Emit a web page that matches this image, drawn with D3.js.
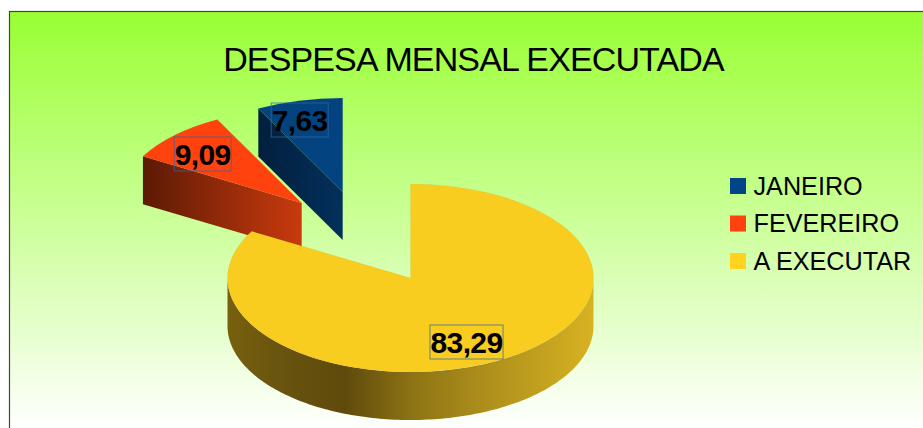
<!DOCTYPE html>
<html>
<head>
<meta charset="utf-8">
<script src="https://cdn.jsdelivr.net/npm/d3@7"></script>
<style>
  html, body { margin: 0; background: #fff; overflow: hidden; }
  text { font-family: "Liberation Sans", Arial, sans-serif; fill: #000; }
</style>
</head>
<body>
<svg id="chart"></svg>
<script>
const title = "DESPESA MENSAL EXECUTADA";
const categories = ["JANEIRO", "FEVEREIRO", "A EXECUTAR"];
const values = [7.63, 9.09, 83.29];
const topColors = ["#03437f", "#ff420e", "#f9cd1f"];
const legendColors = ["#004586", "#ff420e", "#ffd320"];

const width = 923;
const height = 428;
const frame = { left: 9.5, top: 11.5 };

// tilted pie: ellipse radii and wall height
const rx = 183;
const ry = 94;
const depth = 48;
const center = { x: 410.5, y: 278 };

// each slice has its own offset because the original is drawn in perspective
const sliceLayout = [
  { dx: -67.8, dy: -86, labelX: -43, labelY: -72,
    wall: [[0, "#021f3d"], [1, "#03305c"]] },
  { dx: -108.8, dy: -75, labelX: -99, labelY: -49,
    wall: [[0, "#5c1a04"], [1, "#c93a0e"]] },
  { dx: 0, dy: 0, labelX: 56, labelY: 64,
    wall: [[0, "#77600f"], [0.18, "#66510e"], [0.32, "#5f4a0c"], [0.5, "#8c7214"], [0.68, "#a98c1a"], [1, "#d8b222"]] }
];

const svg = d3.select("#chart")
  .attr("width", width)
  .attr("height", height)
  .style("display", "block");

const defs = svg.append("defs");

const bg = defs.append("linearGradient")
  .attr("id", "bg")
  .attr("x1", 0).attr("y1", 0).attr("x2", 0).attr("y2", 1);
bg.append("stop").attr("offset", 0).attr("stop-color", "#99ff33");
bg.append("stop").attr("offset", 1).attr("stop-color", "#ffffff");

svg.append("rect")
  .attr("x", frame.left)
  .attr("y", frame.top)
  .attr("width", width - frame.left + 2)
  .attr("height", height - frame.top + 2)
  .attr("fill", "url(#bg)")
  .attr("stroke", "#3f4a30")
  .attr("stroke-width", 1.2);

svg.append("text")
  .attr("x", 473.5)
  .attr("y", 71)
  .attr("text-anchor", "middle")
  .style("font-size", "34px")
  .style("letter-spacing", "-0.87px")
  .text(title);

// slices run counter-clockwise from 12 o'clock
const pie = d3.pie().sort(null).startAngle(2 * Math.PI).endAngle(0);
const slices = pie(values);

const arc = d3.arc().innerRadius(0).outerRadius(rx);
const wall = d3.area()
  .x(d => d.x)
  .y0(d => d.y + depth)
  .y1(d => d.y);

function onRim(a) {
  return { x: rx * Math.sin(a), y: -ry * Math.cos(a) };
}

const formatValue = v => d3.format(".2f")(v).replace(".", ",");

const groups = svg.selectAll(".slice")
  .data(slices)
  .enter()
  .append("g")
  .attr("class", "slice")
  .attr("transform", (d, i) =>
    `translate(${center.x + sliceLayout[i].dx}, ${center.y + sliceLayout[i].dy})`);

groups.each(function(d, i) {
  const g = d3.select(this);
  let wallPoints;

  if (i === 2) {
    // big slice: only the front of the rim can be seen
    wallPoints = d3.range(Math.PI / 2, 3 * Math.PI / 2 + 0.001, 0.02).map(onRim);
  } else {
    // exploded slices: the cut side from rim to tip
    wallPoints = [onRim(d.endAngle), { x: 0, y: 0 }];
  }
  const x0 = d3.min(wallPoints, p => p.x);
  const x1 = d3.max(wallPoints, p => p.x);

  const grad = defs.append("linearGradient")
    .attr("id", "wall" + i)
    .attr("gradientUnits", "userSpaceOnUse")
    .attr("x1", x0).attr("x2", x1)
    .attr("y1", 0).attr("y2", 0);
  sliceLayout[i].wall.forEach(s => {
    grad.append("stop").attr("offset", s[0]).attr("stop-color", s[1]);
  });

  g.append("path")
    .attr("d", wall(wallPoints))
    .attr("fill", `url(#wall${i})`);

  g.append("path")
    .attr("d", arc(d))
    .attr("transform", `scale(1, ${ry / rx})`)
    .attr("fill", topColors[i])
    .attr("stroke", "#7f8f70")
    .attr("stroke-opacity", 0.2)
    .attr("stroke-width", 0.5);
});

// value labels go over every slice, with the thin box around them
const labels = svg.selectAll(".label")
  .data(slices)
  .enter()
  .append("g")
  .attr("class", "label")
  .attr("transform", (d, i) => {
    const s = sliceLayout[i];
    return `translate(${center.x + s.dx + s.labelX}, ${center.y + s.dy + s.labelY})`;
  });

labels.append("rect")
  .attr("fill", "none")
  .attr("stroke", "#3465a4")
  .attr("stroke-width", 1)
  .attr("stroke-opacity", 0.75);

labels.append("text")
  .attr("text-anchor", "middle")
  .attr("dy", "0.36em")
  .style("font-size", "30px")
  .style("font-weight", "bold")
  .style("letter-spacing", "-0.6px")
  .text(d => formatValue(d.value));

labels.each(function() {
  const box = d3.select(this).select("text").node().getBBox();
  d3.select(this).select("rect")
    .attr("x", box.x - 0.5)
    .attr("y", -17)
    .attr("width", box.width + 1)
    .attr("height", 34);
});

// legend
const legendY = d3.scalePoint()
  .domain(categories)
  .range([186, 261]);

const legend = svg.selectAll(".legend")
  .data(categories)
  .enter()
  .append("g")
  .attr("class", "legend")
  .attr("transform", d => `translate(730, ${legendY(d)})`);

legend.append("rect")
  .attr("y", -8)
  .attr("width", 16)
  .attr("height", 16)
  .attr("fill", (d, i) => legendColors[i]);

legend.append("text")
  .attr("x", 23.5)
  .attr("y", 8.5)
  .style("font-size", "25.2px")
  .text(d => d);
</script>
</body>
</html>
